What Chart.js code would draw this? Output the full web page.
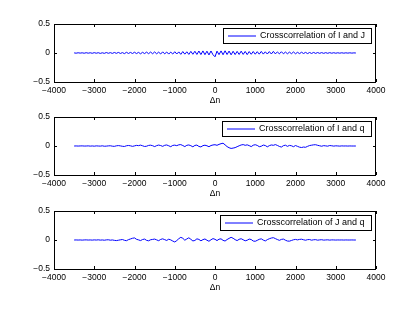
<!DOCTYPE html>
<html>
<head>
<meta charset="utf-8">
<script src="https://cdn.jsdelivr.net/npm/chart.js@4/dist/chart.umd.min.js"></script>
<style>
    body { margin: 0; background: #fff; }
    #wrap { position: relative; width: 415px; height: 313px; background: #fff; }
    .plot { position: absolute; left: 0; width: 415px; height: 106px; }
</style>
</head>
<body>
<div id="wrap">
    <div class="plot" style="top:0px"><canvas id="c1" width="415" height="106"></canvas></div>
    <div class="plot" style="top:93px"><canvas id="c2" width="415" height="106"></canvas></div>
    <div class="plot" style="top:187px"><canvas id="c3" width="415" height="106"></canvas></div>
</div>
<script>
// Lag axis: -3500 .. 3500 in steps of 50
const lagStart = -3500;
const lagStep = 50;

const xTicks = [-4000, -3000, -2000, -1000, 0, 1000, 2000, 3000, 4000];
const yTicks = [-0.5, 0, 0.5];

const labels = [
    'Crosscorrelation of I and J',
    'Crosscorrelation of I and q',
    'Crosscorrelation of J and q'
];

// Values (one every 50 lags)
const corrIJ = [
    0.002,-0.003,0.004,-0.002,0.003,-0.004,0.005,-0.003,0.004,-0.005,
    0.006,-0.004,0.005,-0.007,0.004,-0.006,0.008,-0.005,0.006,-0.007,
    0.009,-0.006,0.010,-0.008,0.007,-0.011,0.012,-0.008,0.010,-0.009,
    0.013,-0.010,0.011,-0.014,0.012,-0.010,0.015,-0.012,0.016,-0.013,
    0.018,-0.014,0.015,-0.017,0.020,-0.015,0.017,-0.019,0.016,-0.018,
    0.022,-0.017,0.019,-0.023,0.025,-0.020,0.021,-0.024,0.028,-0.022,
    0.030,-0.025,0.034,-0.027,0.036,-0.029,0.031,-0.033,0.035,-0.030,
    -0.065,
    0.032,-0.028,0.036,-0.030,0.038,-0.026,0.033,-0.031,0.030,-0.027,
    0.028,-0.025,0.032,-0.024,0.027,-0.028,0.025,-0.022,0.026,-0.021,
    0.023,-0.020,0.027,-0.019,0.021,-0.018,0.024,-0.017,0.028,-0.016,
    0.019,-0.015,0.022,-0.014,0.016,-0.013,0.015,-0.012,0.018,-0.013,
    0.012,-0.011,0.013,-0.009,0.011,-0.010,0.009,-0.008,0.010,-0.007,
    0.008,-0.006,0.007,-0.006,0.006,-0.005,0.006,-0.004,0.005,-0.004,
    0.004,-0.003,0.004,-0.003,0.003,-0.002,0.003,-0.002,0.002,0.000
];

const corrIq = [
    0.000,0.001,-0.001,0.001,0.002,-0.001,0.000,0.002,-0.002,0.001,
    -0.003,0.002,0.000,-0.002,0.003,-0.004,-0.002,0.002,0.004,-0.003,
    -0.006,0.003,0.007,0.002,-0.005,-0.008,0.004,0.009,0.003,-0.006,
    0.002,0.011,0.006,0.015,0.004,-0.008,-0.004,0.010,0.014,0.005,
    -0.010,0.006,0.016,0.008,-0.006,0.012,0.018,0.004,-0.012,0.010,
    0.015,0.006,0.020,0.024,0.008,-0.010,0.012,0.018,0.005,-0.014,
    0.010,0.016,-0.008,-0.016,0.006,0.014,0.004,-0.012,0.008,0.018,
    0.022,
    0.012,0.028,0.040,0.048,0.020,-0.010,-0.030,-0.042,-0.036,-0.028,
    -0.012,0.004,0.018,0.024,0.012,0.020,0.006,-0.010,0.014,0.022,
    0.010,-0.012,-0.004,0.016,0.008,-0.014,0.006,0.018,0.012,0.024,
    0.010,-0.008,-0.018,0.006,0.014,-0.006,0.010,0.004,-0.012,0.008,
    -0.006,-0.020,-0.026,-0.018,-0.022,-0.006,0.008,0.014,0.020,0.022,
    0.012,0.004,-0.004,0.006,0.002,-0.003,0.008,0.004,-0.002,0.003,
    0.001,-0.002,0.002,0.000,0.001,-0.001,0.001,0.000,0.000,0.000
];

const corrJq = [
    0.000,0.001,-0.001,0.001,-0.002,0.001,0.002,-0.001,0.001,-0.002,
    0.002,-0.001,0.003,-0.002,0.001,-0.004,0.002,0.004,-0.003,0.001,
    -0.006,-0.010,-0.004,0.003,0.008,-0.005,-0.012,0.006,0.018,0.030,
    0.036,0.012,0.002,-0.010,0.008,0.016,-0.006,-0.014,0.004,0.010,
    0.016,0.002,-0.012,0.010,0.020,0.006,-0.008,0.014,0.002,-0.018,
    -0.034,-0.010,0.022,0.046,0.030,-0.004,0.018,0.038,0.012,-0.016,
    -0.008,0.020,0.010,-0.014,0.006,0.018,-0.004,-0.022,0.004,0.024,
    0.012,
    -0.010,0.014,0.020,-0.006,-0.018,0.008,0.028,0.046,0.030,0.006,
    -0.010,0.012,0.022,0.004,-0.014,-0.004,0.016,0.008,-0.018,-0.022,
    -0.006,0.012,0.020,-0.002,-0.016,0.006,0.022,0.034,0.040,0.024,
    0.008,-0.006,0.010,0.016,-0.004,-0.018,-0.020,-0.008,0.004,0.010,
    0.002,0.010,0.014,0.004,-0.004,0.006,0.008,-0.003,0.004,0.006,
    -0.003,0.002,0.005,-0.002,0.001,0.003,-0.002,0.002,0.001,-0.001,
    0.001,0.000,0.001,-0.001,0.001,0.000,0.000,0.001,0.000,0.000
];

const FONT = 'Liberation Sans, Arial, Helvetica, sans-serif';
const BLUE = 'rgb(0,0,255)';

function fmt(v) {
    return String(v).replace('-', '\u2212');
}

// MATLAB style box with inward ticks + boxed legend
const matlabBox = {
    id: 'matlabBox',
    afterDraw(chart) {
        const ctx = chart.ctx;
        const a = chart.chartArea;
        const xs = chart.scales.x, ys = chart.scales.y;
        ctx.save();
        ctx.strokeStyle = '#000';
        ctx.lineWidth = 1;
        ctx.strokeRect(Math.round(a.left) + 0.5, Math.round(a.top) + 0.5,
            Math.round(a.right - a.left) - 1, Math.round(a.bottom - a.top));
        ctx.beginPath();
        const tl = 3;
        xTicks.forEach(t => {
            const px = Math.round(xs.getPixelForValue(t)) + 0.5;
            ctx.moveTo(px, a.top); ctx.lineTo(px, a.top + tl);
            ctx.moveTo(px, a.bottom); ctx.lineTo(px, a.bottom - tl);
        });
        yTicks.forEach(t => {
            const py = Math.round(ys.getPixelForValue(t)) + 0.5;
            ctx.moveTo(a.left, py); ctx.lineTo(a.left + tl, py);
            ctx.moveTo(a.right, py); ctx.lineTo(a.right - tl, py);
        });
        ctx.stroke();

        // legend
        const ds = chart.data.datasets[0];
        ctx.font = '9px ' + FONT;
        const tw = ctx.measureText(ds.label).width;
        const w = Math.round(tw + 43), h = 15;
        const x0 = Math.round(a.right) - 5 - w, y0 = Math.round(a.top) + 4;
        ctx.fillStyle = '#fff';
        ctx.fillRect(x0, y0, w, h);
        ctx.strokeStyle = '#000';
        ctx.strokeRect(x0 + 0.5, y0 + 0.5, w, h);
        ctx.strokeStyle = ds.borderColor;
        ctx.beginPath();
        ctx.moveTo(x0 + 5, y0 + 8); ctx.lineTo(x0 + 33, y0 + 8);
        ctx.stroke();
        ctx.fillStyle = '#000';
        ctx.textBaseline = 'middle';
        ctx.fillText(ds.label, x0 + 37, y0 + 8);
        ctx.restore();
    }
};

function makePlot(id, label, values) {
    const pts = values.map((v, i) => ({ x: lagStart + i * lagStep, y: v }));
    new Chart(document.getElementById(id), {
        type: 'line',
        data: {
            datasets: [{
                label: label,
                data: pts,
                borderColor: BLUE,
                borderWidth: 1,
                pointRadius: 0,
                tension: 0,
                fill: false
            }]
        },
        options: {
            responsive: false,
            animation: false,
            layout: { padding: { top: 24, right: 39, left: 0, bottom: 0 } },
            plugins: { legend: { display: false }, tooltip: { enabled: false } },
            scales: {
                x: {
                    type: 'linear',
                    min: -4000,
                    max: 4000,
                    afterBuildTicks: s => { s.ticks = xTicks.map(v => ({ value: v })); },
                    afterFit: s => { s.height = 24; },
                    grid: { display: false, drawTicks: false },
                    border: { display: false },
                    ticks: {
                        padding: 4,
                        color: '#000',
                        maxRotation: 0,
                        autoSkip: false,
                        font: { family: FONT, size: 8.5 },
                        callback: v => fmt(v)
                    },
                    title: {
                        display: true,
                        text: '\u0394n',
                        color: '#000',
                        padding: { top: 0, bottom: 0 },
                        font: { family: FONT, size: 8.5 }
                    }
                },
                y: {
                    min: -0.5,
                    max: 0.5,
                    afterBuildTicks: s => { s.ticks = yTicks.map(v => ({ value: v })); },
                    afterFit: s => { s.width = 54; },
                    grid: { display: false, drawTicks: false },
                    border: { display: false },
                    ticks: {
                        padding: 4,
                        color: '#000',
                        autoSkip: false,
                        font: { family: FONT, size: 8.5 },
                        callback: v => fmt(v)
                    }
                }
            }
        },
        plugins: [matlabBox]
    });
}

makePlot('c1', labels[0], corrIJ);
makePlot('c2', labels[1], corrIq);
makePlot('c3', labels[2], corrJq);
</script>
</body>
</html>
